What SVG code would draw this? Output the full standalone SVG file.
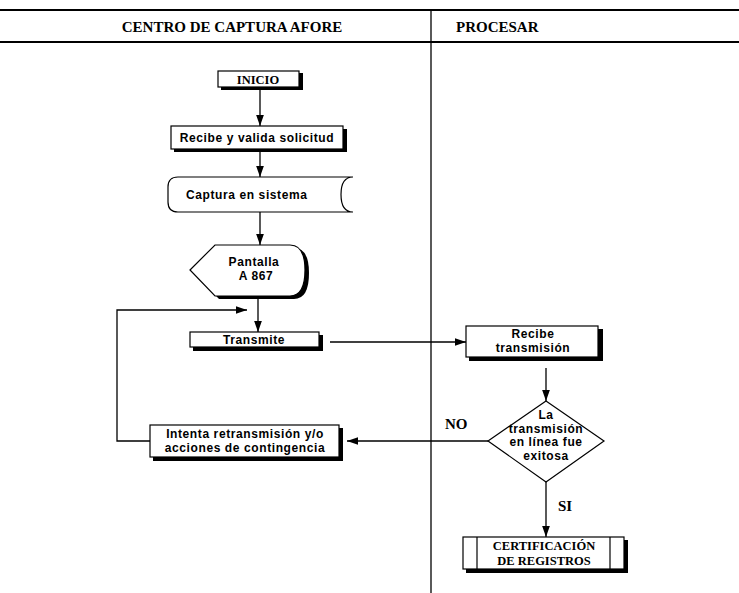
<svg xmlns="http://www.w3.org/2000/svg" width="739" height="593" viewBox="0 0 739 593">
<defs>
<marker id="ah" viewBox="0 0 10 10" refX="10" refY="5" markerWidth="11" markerHeight="11" markerUnits="userSpaceOnUse" orient="auto">
<path d="M0,1.5 L10,5 L0,8.5 Z" fill="#000"/>
</marker>
<style>
.hd{font-family:"Liberation Serif",serif;font-weight:bold;font-size:15px;fill:#000}
.sv{font-family:"Liberation Serif",serif;font-weight:bold;font-size:12.5px;fill:#000}
.lb{font-family:"Liberation Sans",sans-serif;font-weight:bold;font-size:12px;letter-spacing:0.6px;fill:#000}
.box{fill:#fff;stroke:#000;stroke-width:1.2}
.sh{fill:#000}
.ln{fill:none;stroke:#000;stroke-width:1.3}
</style>
</defs>
<rect width="739" height="593" fill="#fff"/>
<g id="header">
<line x1="0" y1="10" x2="739" y2="10" stroke="#000" stroke-width="2"/>
<line x1="0" y1="42" x2="739" y2="42" stroke="#000" stroke-width="2"/>
<line x1="431" y1="10" x2="431" y2="593" stroke="#000" stroke-width="1.3"/>
<text class="hd" x="232" y="32" text-anchor="middle">CENTRO DE CAPTURA AFORE</text>
<text class="hd" x="456" y="32">PROCESAR</text>
</g>
<g id="connectors">
<line class="ln" x1="260" y1="90" x2="260" y2="126" marker-end="url(#ah)"/>
<line class="ln" x1="260" y1="152" x2="260" y2="177" marker-end="url(#ah)"/>
<line class="ln" x1="260" y1="212" x2="260" y2="245" marker-end="url(#ah)"/>
<line class="ln" x1="258" y1="298" x2="258" y2="332" marker-end="url(#ah)"/>
<polyline class="ln" points="150,441 117,441 117,310 247,310" marker-end="url(#ah)"/>
<line class="ln" x1="330" y1="342" x2="466" y2="342" marker-end="url(#ah)"/>
<line class="ln" x1="546" y1="368" x2="546" y2="401" marker-end="url(#ah)"/>
<line class="ln" x1="488" y1="441" x2="347" y2="441" marker-end="url(#ah)"/>
<line class="ln" x1="546" y1="482" x2="546" y2="537" marker-end="url(#ah)"/>
<text class="hd" x="445" y="429" font-size="12">NO</text>
<text class="hd" x="558" y="511" font-size="12">SI</text>
</g>
<g id="inicio">
<rect class="sh" x="221" y="73" width="82" height="17"/>
<rect class="box" x="218" y="71" width="81" height="16" stroke-width="2"/>
<text class="sv" x="258" y="84" text-anchor="middle" font-size="13">INICIO</text>
</g>
<g id="recibe-valida">
<rect class="sh" x="174" y="129" width="173" height="23"/>
<rect class="box" x="171" y="126" width="172" height="23"/>
<text class="lb" x="257" y="142" text-anchor="middle">Recibe y valida solicitud</text>
</g>
<g id="captura">
<path class="box" d="M178,177 H353 Q341,177 341,194.5 Q341,212 353,212 H178 Q168,212 168,202 V187 Q168,177 178,177 Z"/>
<text class="lb" x="186" y="199">Captura en sistema</text>
</g>
<g id="pantalla">
<path class="sh" d="M194,273 L219,248 H294 Q309,248 309,273 Q309,299 294,299 H219 Z"/>
<path class="box" d="M190,270 L215,245 H290 Q305,245 305,270 Q305,296 290,296 H215 Z"/>
<text class="lb" x="254" y="266" text-anchor="middle">Pantalla</text>
<text class="lb" x="256" y="280" text-anchor="middle">A 867</text>
</g>
<g id="transmite">
<rect class="sh" x="193" y="335" width="130" height="16"/>
<rect class="box" x="190" y="332" width="129" height="15"/>
<text class="lb" x="254" y="344" text-anchor="middle">Transmite</text>
</g>
<g id="retransmision">
<rect class="sh" x="153" y="428" width="190" height="33"/>
<rect class="box" x="150" y="425" width="189" height="32"/>
<text class="lb" x="245" y="437.5" text-anchor="middle">Intenta retransmisión y/o</text>
<text class="lb" x="245" y="451.5" text-anchor="middle">acciones de contingencia</text>
</g>
<g id="recibe-transmision">
<rect class="sh" x="469" y="329" width="134" height="32"/>
<rect class="box" x="466" y="326" width="132" height="31"/>
<text class="lb" x="533" y="337.5" text-anchor="middle">Recibe</text>
<text class="lb" x="533" y="351.5" text-anchor="middle">transmisión</text>
</g>
<g id="decision">
<path class="box" d="M546,401 L604,441 L546,482 L488,441 Z"/>
<text class="lb" x="546" y="419" text-anchor="middle">La</text>
<text class="lb" x="546" y="432.5" text-anchor="middle">transmisión</text>
<text class="lb" x="546" y="446" text-anchor="middle">en línea fue</text>
<text class="lb" x="546" y="459.5" text-anchor="middle">exitosa</text>
</g>
<g id="certificacion">
<rect class="sh" x="466" y="540" width="162" height="33"/>
<rect class="box" x="463" y="537" width="161" height="32"/>
<line x1="477" y1="537" x2="477" y2="569" stroke="#000" stroke-width="1.2"/>
<line x1="610" y1="537" x2="610" y2="569" stroke="#000" stroke-width="1.2"/>
<text class="sv" x="544" y="550" text-anchor="middle">CERTIFICACIÓN</text>
<text class="sv" x="544" y="564.5" text-anchor="middle">DE REGISTROS</text>
</g>
</svg>
